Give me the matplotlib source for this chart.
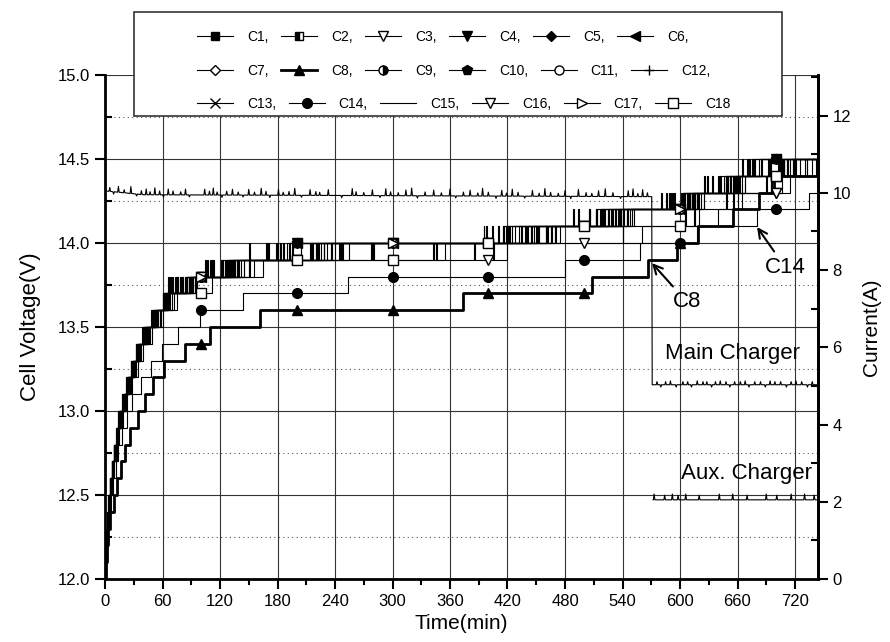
import matplotlib.pyplot as plt
import numpy as np
from matplotlib.lines import Line2D
from matplotlib.patches import Rectangle
from matplotlib.ticker import MultipleLocator, FormatStrFormatter

plt.rcParams['font.family'] = ['Liberation Sans', 'DejaVu Sans']

# voltage steps the cells climb through (0.1 V resolution of the logger)
levels = [12.1, 12.2, 12.3, 12.4, 12.5, 12.6, 12.7, 12.8, 12.9, 13.0,
          13.1, 13.2, 13.3, 13.4, 13.5, 13.6, 13.7, 13.8, 13.9, 14.0,
          14.1, 14.2, 14.3, 14.4, 14.5]
mark_t = [100, 200, 300, 400, 500, 600, 700]
t_end = 744

# minute at which each cell first reads levels[i]
# and minutes where the reading jumps one step up for a moment
c1_up = [0.5, 1, 2, 3, 4, 5, 7, 9, 12, 15, 19, 23, 28, 33, 41, 50, 62, 86, 128, 195, 425, 522, 604, 650, 684]
c1_fl = [70, 104, 150, 180, 410, 505, 588, 640, 676]
c2_up = [0.5, 1, 2, 3, 4, 6, 8, 10, 13, 17, 21, 25, 30, 36, 44, 54, 66, 90, 138, 215, 445, 538, 612, 660, 705]
c2_fl = [74, 112, 183, 438, 512, 592, 652, 692]
c3_up = [0.5, 1, 2, 3, 4, 6, 8, 10, 13, 16, 20, 24, 29, 35, 43, 53, 65, 88, 132, 225, 460, 548, 625, 706, 742]
c3_fl = [80, 121, 214, 452, 540, 618, 690, 732]
c4_up = [0.5, 1, 1.5, 2.5, 3.5, 5, 7, 9, 11, 14, 18, 22, 27, 32, 40, 49, 60, 84, 126, 192, 418, 516, 602, 646, 678]
c4_fl = [68, 106, 170, 395, 505, 580, 628, 670]
c5_up = [0.5, 1, 2, 3, 4, 5, 7, 9, 12, 15, 19, 23, 28, 33, 41, 51, 63, 86, 130, 196, 428, 525, 605, 652, 686]
c5_fl = [79, 110, 186, 415, 512, 594, 642, 676]
c6_up = [0.5, 1, 1.5, 2.5, 3.5, 5, 7, 9, 12, 15, 19, 23, 27, 32, 40, 50, 61, 85, 125, 190, 420, 518, 603, 648, 682]
c6_fl = [75, 113, 178, 398, 494, 590, 625, 672]
c7_up = [0.5, 1, 2, 3, 4, 6, 8, 10, 13, 17, 21, 25, 30, 35, 43, 53, 66, 91, 142, 232, 452, 542, 618, 662, 712]
c7_fl = [84, 130, 222, 434, 532, 608, 655, 702]
c8_up = [1, 2, 3, 5, 9, 13, 17, 21, 26, 34, 42, 50, 62, 83, 110, 162, 374, 508, 567, 597, 619, 655, 682, 698]
c8_fl = []
c9_up = [0.5, 1, 2, 3, 4, 6, 8, 10, 13, 16, 20, 24, 29, 34, 42, 52, 64, 89, 135, 240, 440, 535, 610, 658, 715]
c9_fl = [73, 126, 228, 420, 525, 604, 648, 706]
c10_up = [0.5, 1, 1.5, 2.5, 3.5, 5, 7, 9, 11, 14, 18, 22, 27, 32, 39, 48, 60, 83, 122, 193, 415, 512, 601, 642, 675]
c10_fl = [66, 112, 168, 404, 488, 585, 633, 665]
c11_up = [0.5, 1, 2, 3, 4, 6, 8, 10, 13, 17, 21, 25, 31, 36, 44, 55, 67, 92, 145, 248, 465, 545, 620, 665, 720]
c11_fl = [85, 134, 236, 445, 536, 612, 657, 708]
c12_up = [0.5, 1, 2, 3, 4, 6, 8, 10, 13, 16, 20, 25, 30, 35, 43, 54, 65, 90, 140, 236, 448, 540, 614, 663, 718]
c12_fl = [75, 128, 216, 440, 520, 609, 652, 704]
c13_up = [0.5, 1, 2, 3, 4, 6, 8, 10, 13, 17, 21, 25, 30, 36, 45, 55, 68, 94, 150, 255, 470, 550, 622, 668, 725]
c13_fl = [78, 138, 244, 460, 528, 615, 660, 712]
c14_up = [1, 2, 3, 4, 6, 8, 11, 14, 18, 23, 28, 38, 48, 59, 76, 99, 144, 254, 480, 558, 618, 680, 735]
c14_fl = []
c15_up = [0.5, 1, 2, 3, 4, 5, 7, 9, 12, 16, 20, 24, 29, 34, 42, 52, 64, 88, 134, 220, 432, 530, 612, 657, 708]
c15_fl = [80, 122, 204, 422, 518, 607, 648, 694]
c16_up = [0.5, 1, 2, 3, 4, 6, 8, 11, 14, 18, 22, 27, 32, 38, 47, 58, 72, 96, 155, 420, 560, 620, 660, 715]
c16_fl = [122, 246, 278, 342, 385, 405, 470, 540, 605, 648, 695]
c17_up = [0.5, 1, 2, 3, 4, 6, 8, 10, 13, 17, 21, 26, 31, 37, 46, 57, 70, 92, 145, 228, 462, 552, 625, 668, 730]
c17_fl = [88, 135, 220, 450, 545, 618, 658, 718]
c18_up = [0.5, 1, 2, 3, 5, 7, 9, 12, 15, 19, 23, 28, 34, 40, 49, 60, 75, 112, 165, 355, 475, 640, 665, 695, 738]
c18_fl = [95, 150, 280, 345, 465, 615, 655, 720]

# charger currents (A): base level knots plus short noise spikes
main_knot_t = [0, 40, 570.5, 571, 744]
main_knot_a = [10.05, 9.95, 9.9, 5.03, 5.03]
main_spk_t = [5, 9, 14, 20, 27, 33, 38, 43, 47, 52, 57, 61, 66, 71, 79, 84, 88, 104, 109, 113,
              117, 122, 127, 133, 139, 144, 150, 156, 163, 168, 172, 181, 186, 192, 198, 205, 214,
              220, 224, 233, 247, 258, 262, 270, 279, 287, 293, 298, 306, 314, 320, 326, 334, 343,
              351, 360, 366, 374, 381, 389, 394, 400, 408, 414, 419, 425, 431, 438, 446, 453, 459,
              465, 473, 480, 486, 494, 502, 508, 515, 522, 530, 538, 546, 551, 556, 561, 566,
              576, 580, 585, 590, 596, 603, 608, 612, 618, 624, 628, 633, 637, 642, 648, 652,
              657, 663, 668, 672, 678, 684, 689, 694, 699, 705, 711, 716, 721, 727, 733, 738]
main_spk_d = [0.1, -0.06, 0.15, 0.08, 0.18, -0.05, 0.1, 0.15, 0.08, 0.18,
              0.1, -0.06, 0.15, 0.1, 0.08, 0.15, -0.05, 0.15, 0.1, 0.18,
              0.08, -0.06, 0.1, 0.15, 0.08, -0.05, 0.15, 0.08, 0.18, 0.1,
              -0.06, 0.15, 0.08, 0.1, 0.18, -0.05, 0.15, 0.1, 0.08, 0.15,
              -0.06, 0.18, 0.1, 0.08, 0.15, -0.05, 0.18, 0.1, 0.08, 0.15,
              0.2, -0.06, 0.1, 0.15, 0.08, 0.18, -0.05, 0.1, 0.15, 0.08,
              0.2, 0.1, -0.06, 0.15, 0.08, 0.18, 0.1, -0.05, 0.15, 0.08,
              0.2, 0.1, 0.08, 0.15, -0.06, 0.18, 0.1, 0.08, 0.15, 0.2,
              0.1, -0.05, 0.15, 0.2, 0.08, 0.18, 0.1,
              0.08, -0.06, 0.08, 0.1, -0.06, 0.08, 0.08, -0.06, 0.1, 0.08,
              0.08, -0.06, 0.08, 0.1, 0.08, -0.06, 0.08, 0.08, 0.1, -0.06,
              0.08, 0.08, -0.06, 0.1, 0.08, 0.08, -0.06, 0.08, 0.1, 0.08,
              -0.06, 0.08]
aux_knot_t = [572, 744]
aux_knot_a = [2.05, 2.05]
aux_spk_t = [573, 584, 592, 598, 606, 620, 641, 655, 670, 690, 701, 716, 730, 740]
aux_spk_d = [0.15, 0.12, 0.15, 0.12, 0.15, 0.12, 0.15, 0.15, 0.12, 0.15, 0.12, 0.15, 0.15, 0.12]

cell_names = ['C1', 'C2', 'C3', 'C4', 'C5', 'C6', 'C7', 'C8', 'C9',
              'C10', 'C11', 'C12', 'C13', 'C14', 'C15', 'C16', 'C17', 'C18']
cell_up = [c1_up, c2_up, c3_up, c4_up, c5_up, c6_up, c7_up, c8_up, c9_up,
           c10_up, c11_up, c12_up, c13_up, c14_up, c15_up, c16_up, c17_up, c18_up]
cell_fl = [c1_fl, c2_fl, c3_fl, c4_fl, c5_fl, c6_fl, c7_fl, c8_fl, c9_fl,
           c10_fl, c11_fl, c12_fl, c13_fl, c14_fl, c15_fl, c16_fl, c17_fl, c18_fl]

W = 'white'
styles = [
    dict(marker='s', mfc='k', ms=6),
    dict(marker='s', mfc='k', fillstyle='left', mfcalt=W, ms=6),
    dict(marker='v', mfc=W, ms=7),
    dict(marker='v', mfc='k', ms=7),
    dict(marker='D', mfc='k', ms=5.5),
    dict(marker='<', mfc='k', ms=7),
    dict(marker='D', mfc=W, ms=5.5),
    dict(marker='^', mfc='k', ms=7),
    dict(marker='o', mfc='k', fillstyle='right', mfcalt=W, ms=6.5),
    dict(marker='p', mfc='k', ms=7.5),
    dict(marker='o', mfc=W, ms=6.5),
    dict(marker='+', ms=7),
    dict(marker='x', ms=6.5),
    dict(marker='o', mfc='k', ms=7),
    dict(marker='None'),
    dict(marker='v', mfc=W, ms=7),
    dict(marker='>', mfc=W, ms=7),
    dict(marker='s', mfc=W, ms=6.5),
]


def level_at(up, t):
    v = 12.0
    for ta, lv in zip(up, levels):
        if ta <= t:
            v = lv
    return v


def cell_curve(up, fl):
    ts = sorted(set([0] + list(up) + list(fl) + [f + 1 for f in fl] + [t_end]))
    ts = [t for t in ts if t <= t_end]
    vs = []
    for t in ts:
        v = level_at(up, t)
        if any(f <= t < f + 1 for f in fl):
            v = v + 0.1
        vs.append(round(v, 2))
    return ts, vs


def current_curve(kt, ka, st, sd):
    pts = [(t, a) for t, a in zip(kt, ka)]
    for t, d in zip(st, sd):
        if kt[0] < t < kt[-1]:
            b = np.interp(t, kt, ka)
            pts += [(t - 0.8, b), (t, b + d), (t + 0.8, b)]
    pts.sort()
    return [p[0] for p in pts], [p[1] for p in pts]


fig = plt.figure(figsize=(8.9, 6.42), dpi=100)
ax = fig.add_axes([105 / 890, 63 / 642, 713 / 890, 504 / 642])
ax2 = ax.twinx()

handles = []
for i, (name, up, fl, st) in enumerate(zip(cell_names, cell_up, cell_fl, styles)):
    lw = 2.0 if name == 'C8' else 0.8
    ts, vs = cell_curve(up, fl)
    ax.plot(ts, vs, drawstyle='steps-post', color='k', lw=lw, zorder=2 + i * 0.01)
    if st['marker'] != 'None':
        ax.plot(mark_t, [level_at(up, t) for t in mark_t], ls='none', color='k', mec='k',
                mew=1.0, zorder=3 + i * 0.01, **st)
    handles.append(Line2D([], [], color='k', lw=lw, mec='k', mew=1.0, **st))

mx, my = current_curve(main_knot_t, main_knot_a, main_spk_t, main_spk_d)
ax2.plot(mx, my, color='k', lw=0.8)
axx, axy = current_curve(aux_knot_t, aux_knot_a, aux_spk_t, aux_spk_d)
ax2.plot(axx, axy, color='k', lw=0.8)

ax.set_xlim(0, t_end)
ax.set_ylim(12.0, 15.0)
ax2.set_ylim(0, 13.05)

ax.xaxis.set_major_locator(MultipleLocator(60))
ax.xaxis.set_minor_locator(MultipleLocator(30))
ax.yaxis.set_major_locator(MultipleLocator(0.5))
ax.yaxis.set_minor_locator(MultipleLocator(0.25))
ax.yaxis.set_major_formatter(FormatStrFormatter('%.1f'))
ax2.yaxis.set_major_locator(MultipleLocator(2))
ax2.yaxis.set_minor_locator(MultipleLocator(1))

ax.set_axisbelow(True)
ax.grid(True, which='major', axis='both', color='#333333', lw=0.8)
ax.grid(True, which='minor', axis='y', color='#555555', lw=0.8, ls=(0, (1, 3)))

for s in ['left', 'bottom', 'right']:
    ax.spines[s].set_linewidth(2)
ax.spines['top'].set_visible(False)
for s in ['left', 'bottom', 'top']:
    ax2.spines[s].set_visible(False)
ax2.spines['right'].set_linewidth(2)

ax.tick_params(axis='both', which='major', direction='out', length=7, width=1.5, labelsize=12)
ax.tick_params(axis='x', which='minor', direction='out', length=4, width=1.5)
ax.tick_params(axis='y', which='minor', direction='in', length=5, width=1.5)
ax2.tick_params(axis='y', which='major', direction='out', length=7, width=1.5, labelsize=12)
ax2.tick_params(axis='y', which='minor', direction='in', length=5, width=1.5)

ax.set_xlabel('Time(min)', fontsize=15, labelpad=4)
ax.set_ylabel('Cell Voltage(V)', fontsize=16, labelpad=12)
ax2.set_ylabel('Current(A)', fontsize=15, labelpad=8)

ax.annotate('C8', xy=(570.8, 13.88), xytext=(607, 13.65), ha='center', va='center', fontsize=16,
            arrowprops=dict(arrowstyle='->', lw=1.5, color='k', shrinkA=2, shrinkB=0))
ax.annotate('C14', xy=(680.4, 14.095), xytext=(709.6, 13.857), ha='center', va='center', fontsize=16,
            arrowprops=dict(arrowstyle='->', lw=1.5, color='k', shrinkA=2, shrinkB=0))
ax.text(654.5, 13.34, 'Main Charger', ha='center', va='center', fontsize=16)
ax.text(669, 12.625, 'Aux. Charger', ha='center', va='center', fontsize=16)

# legend box laid over the top of the plot, three rows like the original
frame = Rectangle((134 / 890, 1 - 116 / 642), (782 - 134) / 890, 104 / 642,
                  transform=fig.transFigure, fc='white', ec='#333333', lw=1.2, zorder=5)
fig.add_artist(frame)
row_y = [37, 71, 104]
for r in range(3):
    names = cell_names[r * 6:(r + 1) * 6]
    leg = fig.legend(handles[r * 6:(r + 1) * 6], [n + (',' if n != 'C18' else '') for n in names],
                     ncol=6, loc='center left', bbox_to_anchor=(197 / 890, 1 - row_y[r] / 642),
                     frameon=False, fontsize=10, handlelength=2.6, handletextpad=1.0,
                     columnspacing=0.9, borderpad=0, borderaxespad=0)
    leg.set_zorder(6)

fig.savefig('out.png', dpi=100)
